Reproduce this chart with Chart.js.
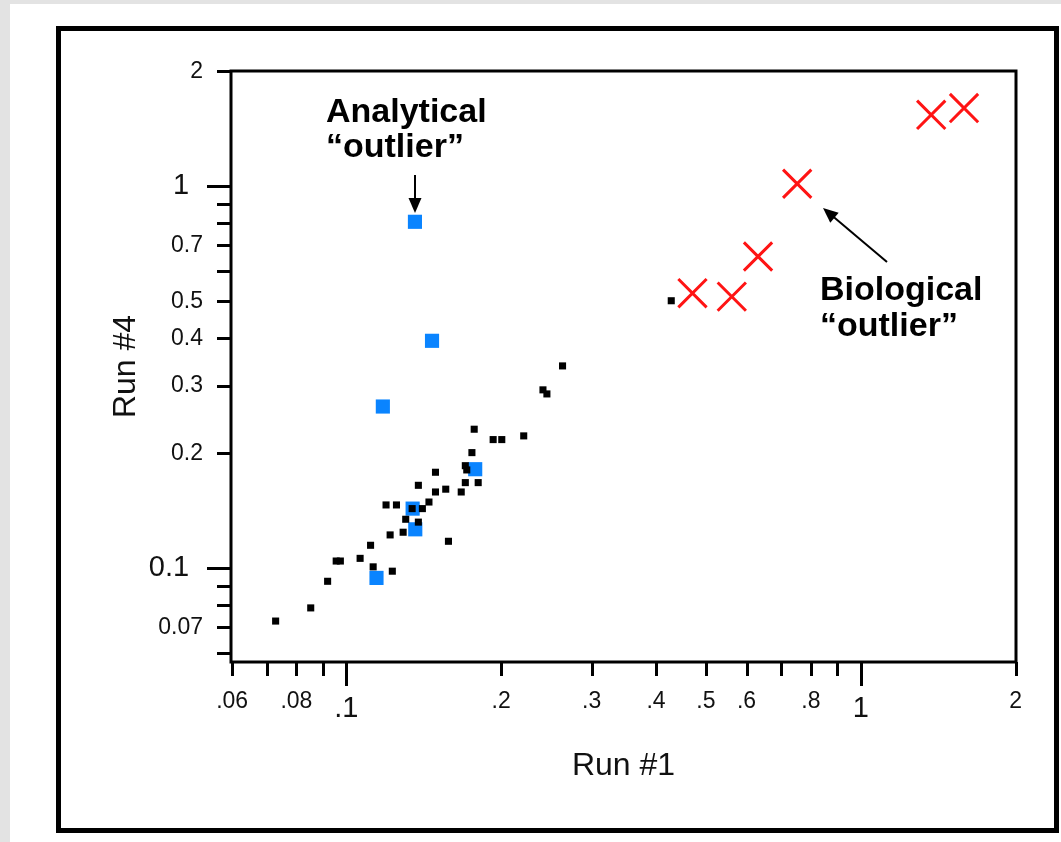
<!DOCTYPE html>
<html>
<head>
<meta charset="utf-8">
<script src="https://cdn.jsdelivr.net/npm/chart.js@4"></script>
<style>
  html, body { margin: 0; padding: 0; background: #e3e3e3; overflow: hidden; }
  #sheet { position: absolute; left: 10px; top: 4px; right: 0; bottom: 0; background: #fff; }
  #frame { position: absolute; left: 56px; top: 26px; width: 1003px; height: 807px; box-sizing: border-box; border: 5px solid #000; }
  #chart { position: absolute; left: 0; top: 0; }
</style>
</head>
<body>
<div id="sheet"></div>
<div id="frame"></div>
<canvas id="chart" width="1061" height="842"></canvas>
<script>
// --- data (Run #1 vs Run #4) ---
const normalRun1 = [0.0729, 0.0853, 0.092, 0.0956, 0.0974, 0.1064, 0.1115, 0.1128, 0.1229, 0.1217,
  0.129, 0.1195, 0.1252, 0.1305, 0.1343, 0.1406, 0.1381, 0.1448, 0.1381, 0.1491,
  0.1491, 0.1561, 0.158, 0.1673, 0.1704, 0.1805, 0.1704, 0.1715, 0.1755, 0.1773,
  0.193, 0.2006, 0.2213, 0.2412, 0.2455, 0.2633, 0.4283];
const normalRun4 = [0.0727, 0.0787, 0.0924, 0.1044, 0.1044, 0.1061, 0.1148, 0.1008, 0.0982, 0.1222,
  0.1242, 0.1464, 0.1464, 0.1343, 0.1432, 0.1432, 0.132, 0.149, 0.1648, 0.1583,
  0.1783, 0.161, 0.1176, 0.1583, 0.1675, 0.1675, 0.1855, 0.1808, 0.2007, 0.2311,
  0.2171, 0.2171, 0.222, 0.293, 0.2859, 0.3385, 0.5014];

const analyticalRun1 = [0.1178, 0.1781, 0.1346, 0.1362, 0.1145, 0.136, 0.1468];
const analyticalRun4 = [0.265, 0.1816, 0.1432, 0.1264, 0.0943, 0.807, 0.3938];

const biologicalRun1 = [0.471, 0.5616, 0.6316, 0.7526, 1.371, 1.588];
const biologicalRun4 = [0.5248, 0.514, 0.6545, 1.015, 1.538, 1.602];

// axis ticks
const xTickMarks = [0.06, 0.07, 0.08, 0.09, 0.1, 0.2, 0.3, 0.4, 0.5, 0.6, 0.7, 0.8, 0.9, 1, 2];
const xTickValues = [0.06, 0.08, 0.1, 0.2, 0.3, 0.4, 0.5, 0.6, 0.8, 1, 2];
const xTickLabels = ['.06', '.08', '.1', '.2', '.3', '.4', '.5', '.6', '.8', '1', '2'];
const yTickMarks = [2, 1, 0.9, 0.8, 0.7, 0.6, 0.5, 0.4, 0.3, 0.2, 0.1, 0.09, 0.08, 0.07, 0.06];
const yTickValues = [2, 1, 0.7, 0.5, 0.4, 0.3, 0.2, 0.1, 0.07];
const yTickLabels = ['2', '1', '0.7', '0.5', '0.4', '0.3', '0.2', '0.1', '0.07'];
const majorTicks = [0.1, 1];

const FONT = '"Liberation Sans", Arial, Helvetica, sans-serif';

function toPoints(xs, ys) {
    return xs.map((x, i) => ({ x: x, y: ys[i] }));
}

function tickFont(ctx) {
    const v = ctx.tick ? ctx.tick.value : null;
    if (majorTicks.includes(v)) return { family: FONT, size: 29, lineHeight: 1.45 };
    return { family: FONT, size: 23 };
}

function drawArrow(ctx, x1, y1, x2, y2) {
    const ang = Math.atan2(y2 - y1, x2 - x1);
    const head = 15, half = 6.5;
    ctx.beginPath();
    ctx.moveTo(x1, y1);
    ctx.lineTo(x2 - Math.cos(ang) * head * 0.8, y2 - Math.sin(ang) * head * 0.8);
    ctx.stroke();
    ctx.beginPath();
    ctx.moveTo(x2, y2);
    ctx.lineTo(x2 - Math.cos(ang) * head - Math.sin(ang) * half, y2 - Math.sin(ang) * head + Math.cos(ang) * half);
    ctx.lineTo(x2 - Math.cos(ang) * head + Math.sin(ang) * half, y2 - Math.sin(ang) * head - Math.cos(ang) * half);
    ctx.closePath();
    ctx.fill();
}

// frame, tick marks and annotations
const axisMarks = {
    id: 'axisMarks',
    afterDraw(chart) {
        const { ctx, chartArea: a, scales: { x, y } } = chart;
        ctx.save();
        ctx.strokeStyle = '#000';
        ctx.fillStyle = '#000';
        ctx.lineWidth = 3;
        ctx.strokeRect(a.left, a.top, a.right - a.left, a.bottom - a.top);

        ctx.beginPath();
        yTickMarks.forEach(v => {
            const py = Math.round(y.getPixelForValue(v)) + 0.5;
            const len = majorTicks.includes(v) ? 24 : 14;
            ctx.moveTo(a.left - len, py);
            ctx.lineTo(a.left, py);
        });
        xTickMarks.forEach(v => {
            const px = Math.round(x.getPixelForValue(v)) + 0.5;
            const len = majorTicks.includes(v) ? 24 : 14;
            ctx.moveTo(px, a.bottom);
            ctx.lineTo(px, a.bottom + len);
        });
        ctx.stroke();

        // annotations
        ctx.font = 'bold 34px ' + FONT;
        ctx.textAlign = 'left';
        ctx.textBaseline = 'alphabetic';
        ctx.fillText('Analytical', 326, 122);
        ctx.fillText('\u201Coutlier\u201D', 326, 157);
        ctx.fillText('Biological', 820, 300);
        ctx.fillText('\u201Coutlier\u201D', 820, 336);

        ctx.lineWidth = 2;
        drawArrow(ctx, 415, 175, 415, 213);
        drawArrow(ctx, 887, 262, 823, 208);
        ctx.restore();
    }
};

new Chart(document.getElementById('chart'), {
    type: 'scatter',
    data: {
        datasets: [
            {
                label: 'Normal',
                data: toPoints(normalRun1, normalRun4),
                pointStyle: 'rect',
                pointRadius: 5,
                backgroundColor: '#000',
                borderWidth: 0
            },
            {
                label: 'Analytical outlier',
                data: toPoints(analyticalRun1, analyticalRun4),
                pointStyle: 'rect',
                pointRadius: 10,
                backgroundColor: '#0a84ff',
                borderWidth: 0
            },
            {
                label: 'Biological outlier',
                data: toPoints(biologicalRun1, biologicalRun4),
                pointStyle: 'crossRot',
                pointRadius: 20,
                borderColor: '#ff1414',
                borderWidth: 3
            }
        ]
    },
    options: {
        responsive: false,
        devicePixelRatio: 1,
        animation: false,
        layout: {
            autoPadding: false,
            padding: { left: 0, top: 71, right: 45, bottom: 0 }
        },
        plugins: {
            legend: { display: false },
            tooltip: { enabled: false }
        },
        scales: {
            x: {
                type: 'logarithmic',
                position: 'bottom',
                min: 0.0597,
                max: 2.004,
                grid: { display: false, drawTicks: false },
                border: { display: false },
                afterBuildTicks: s => { s.ticks = xTickValues.map(v => ({ value: v })); },
                afterFit: s => { s.height = 180; },
                ticks: {
                    autoSkip: false,
                    maxRotation: 0,
                    padding: 26,
                    color: '#111',
                    font: tickFont,
                    callback: v => xTickLabels[xTickValues.indexOf(v)]
                },
                title: {
                    display: true,
                    text: 'Run #1',
                    color: '#111',
                    font: { family: FONT, size: 32 },
                    padding: { top: 0, bottom: 57 }
                }
            },
            y: {
                type: 'logarithmic',
                position: 'left',
                min: 0.0568,
                max: 2.003,
                grid: { display: false, drawTicks: false },
                border: { display: false },
                afterBuildTicks: s => { s.ticks = yTickValues.map(v => ({ value: v })); },
                afterFit: s => { s.width = 231; },
                ticks: {
                    autoSkip: false,
                    padding: 28,
                    color: '#111',
                    font: tickFont,
                    callback: v => {
                        const t = yTickLabels[yTickValues.indexOf(v)];
                        return majorTicks.includes(v) ? t + ' \u2009' : t;
                    }
                },
                title: {
                    display: true,
                    text: 'Run #4',
                    color: '#111',
                    font: { family: FONT, size: 32 },
                    padding: { top: 107, bottom: 0 }
                }
            }
        }
    },
    plugins: [axisMarks]
});
</script>
</body>
</html>
